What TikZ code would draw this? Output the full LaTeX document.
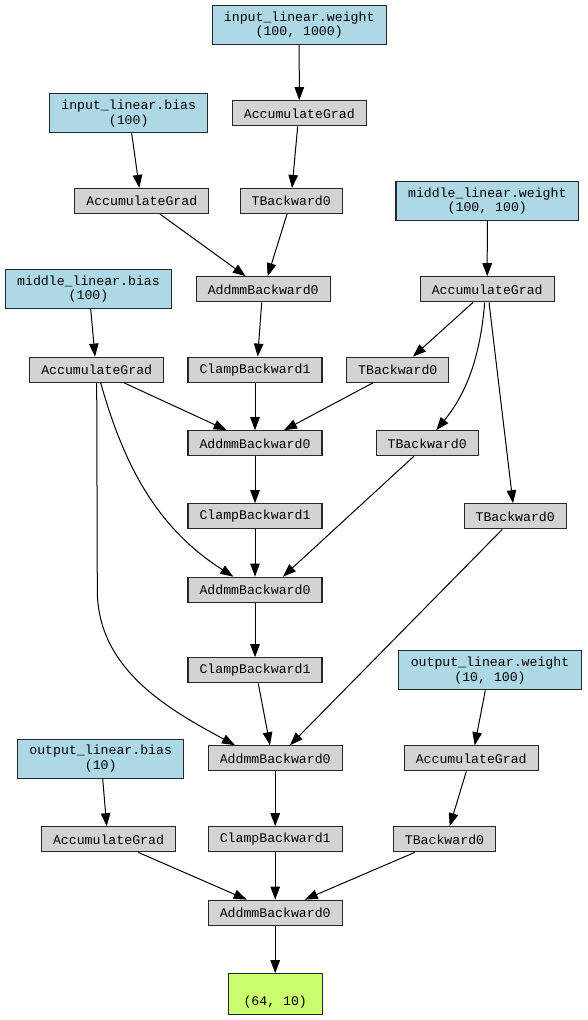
\documentclass[tikz,border=0pt]{standalone}
\usepackage{fontspec}
\setmonofont{Liberation Mono}
\usetikzlibrary{arrows.meta}
\definecolor{pblue}{HTML}{ADD8E6}
\definecolor{fgrey}{HTML}{D3D3D3}
\definecolor{ogreen}{HTML}{CAFF70}
\begin{document}
\begin{tikzpicture}[x=1pt,y=-1pt,
  box/.style={draw=black!85, line width=1.2pt, inner sep=0pt, align=center,
    font=\ttfamily\fontsize{13.2}{14.6}\selectfont},
  fn/.style={box, fill=fgrey, minimum height=25pt, minimum width=134pt},
  tfn/.style={fn, minimum width=102pt},
  param/.style={box, fill=pblue, minimum height=39pt},
  outn/.style={box, fill=ogreen, minimum height=40.5pt, minimum width=94pt},
  edge/.style={draw=black, line width=1pt, -{Triangle[length=13pt,width=9.5pt]}}
]
\useasboundingbox (0,0) rectangle (587,1020);

\node[param, minimum width=174pt] (iwp) at (299.2,25) {input\_linear.weight\\(100, 1000)};
\node[param, minimum width=158pt] (ibp) at (128.7,113.3) {input\_linear.bias\\(100)};
\node[fn] (agiw) at (299.3,113.3) {AccumulateGrad};
\node[fn] (agib) at (141.8,201) {AccumulateGrad};
\node[tfn] (tb1) at (291.2,201) {TBackward0};
\node[param, minimum width=182.5pt] (mwp) at (487.3,201) {middle\_linear.weight\\(100, 100)};
\node[param, minimum width=166.5pt] (mbp) at (88.5,289) {middle\_linear.bias\\(100)};
\node[fn] (a1) at (263.2,289.3) {AddmmBackward0};
\node[fn] (agmw) at (487.2,289.3) {AccumulateGrad};
\node[fn] (agmb) at (96.7,369.7) {AccumulateGrad};
\node[fn] (c1) at (255,369.7) {ClampBackward1};
\node[tfn] (t2) at (397.8,369.7) {TBackward0};
\node[fn] (a2) at (255,443.3) {AddmmBackward0};
\node[tfn] (t3) at (427.2,443.3) {TBackward0};
\node[fn] (c2) at (255,516.3) {ClampBackward1};
\node[tfn] (t4) at (515.2,516.3) {TBackward0};
\node[fn] (a3) at (255,589.7) {AddmmBackward0};
\node[fn] (c3) at (255,670.3) {ClampBackward1};
\node[param, minimum width=182.5pt] (owp) at (490,670.3) {output\_linear.weight\\(10, 100)};
\node[param, minimum width=166pt] (obp) at (100.7,758.7) {output\_linear.bias\\(10)};
\node[fn] (a4) at (275.2,758.3) {AddmmBackward0};
\node[fn] (agow) at (471.2,758.3) {AccumulateGrad};
\node[fn] (agob) at (108.5,839.3) {AccumulateGrad};
\node[fn] (c4) at (275.2,839.3) {ClampBackward1};
\node[tfn] (t5) at (444.5,839.3) {TBackward0};
\node[fn] (a5) at (275.2,912.7) {AddmmBackward0};
\node[outn] (out) at (275.2,994) {\strut\\(64, 10)};

\coordinate (bend) at (97.3,590);

\draw[edge] (iwp.south) -- (agiw.north);
\draw[edge] ([xshift=3pt]ibp.south) -- ([xshift=-2.5pt]agib.north);
\draw[edge] ([xshift=-1.6pt]agiw.south) -- ([xshift=0.8pt]tb1.north);
\draw[edge] ([xshift=18.2pt]agib.south) -- ([xshift=-17.5pt]a1.north);
\draw[edge] ([xshift=-4.2pt]tb1.south) -- ([xshift=4.5pt]a1.north);
\draw[edge] (mwp.south) -- (agmw.north);
\draw[edge] ([xshift=2.2pt]mbp.south) -- ([xshift=-1.7pt]agmb.north);
\draw[edge] ([xshift=-1.5pt]a1.south) -- ([xshift=2.7pt]c1.north);
\draw[edge] ([xshift=-14.2pt]agmw.south) -- ([xshift=15.2pt]t2.north);
\draw[edge] ([xshift=-2.5pt]agmw.south) .. controls (480,360) and (465,395) .. ([xshift=9.1pt]t3.north);
\draw[edge] ([xshift=1.8pt]agmw.south) -- ([xshift=-2.2pt]t4.north);
\draw[edge] ([xshift=27.3pt]agmb.south) -- ([xshift=-28.3pt]a2.north);
\draw[edge] (c1.south) -- (a2.north);
\draw[edge] ([xshift=-24.8pt]t2.south) -- ([xshift=29pt]a2.north);
\draw[edge] (a2.south) -- (c2.north);
\draw[edge] ([xshift=4pt]agmb.south) .. controls (125,470) and (160,530) .. ([xshift=-21.7pt]a3.north);
\draw[edge] (c2.south) -- (a3.north);
\draw[edge] ([xshift=-13.5pt]t3.south) -- ([xshift=28pt]a3.north);
\draw[edge] (a3.south) -- (c3.north);
\draw[edge] (agmb.south) -- (bend) .. controls (97.3,670) and (170,710) .. ([xshift=-40.2pt]a4.north);
\draw[edge] ([xshift=3.3pt]c3.south) -- ([xshift=-5.2pt]a4.north);
\draw[edge] ([xshift=-12.9pt]t4.south) -- ([xshift=14.8pt]a4.north);
\draw[edge] ([xshift=-4.7pt]owp.south) -- ([xshift=3.5pt]agow.north);
\draw[edge] (a4.south) -- (c4.north);
\draw[edge] ([xshift=2pt]obp.south) -- ([xshift=-1.8pt]agob.north);
\draw[edge] ([xshift=-4.9pt]agow.south) -- ([xshift=5.2pt]t5.north);
\draw[edge] ([xshift=29.8pt]agob.south) -- ([xshift=-28.5pt]a5.north);
\draw[edge] (c4.south) -- (a5.north);
\draw[edge] ([xshift=-29.8pt]t5.south) -- ([xshift=29.5pt]a5.north);
\draw[edge] (a5.south) -- (out.north);
\end{tikzpicture}
\end{document}
